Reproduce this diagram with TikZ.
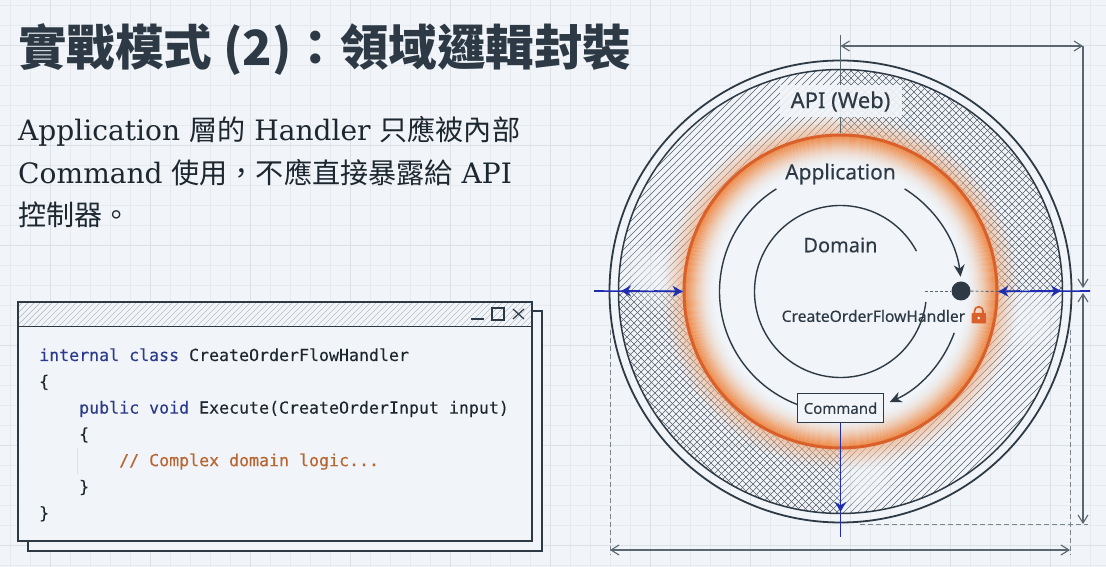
\documentclass[tikz,border=0pt]{standalone}
\usepackage{fontspec}
\usetikzlibrary{arrows.meta}
\setmainfont{DejaVu Serif}
\setsansfont[FakeBold=0.25]{Noto Sans}
\setmonofont[FakeBold=0.15]{DejaVu Sans Mono}
\newfontfamily\cjkfont{Noto Sans CJK TC}
\definecolor{bgc}{HTML}{F1F4F8}
\definecolor{gridminor}{HTML}{E6EAEF}
\definecolor{gridmajor}{HTML}{DCE1E7}
\definecolor{ink}{HTML}{2D3A45}
\definecolor{dimc}{HTML}{5A6670}
\definecolor{hatchc}{HTML}{55606A}
\definecolor{orangec}{HTML}{D9602A}
\definecolor{glowc}{HTML}{EE7F35}
\definecolor{bluec}{HTML}{1F2DB0}
\definecolor{kwc}{HTML}{2B3A8C}
\definecolor{cmtc}{HTML}{B8652F}
\definecolor{bodyc}{HTML}{1D2730}
\tikzset{
  x=1pt,y=1pt,
  lbl/.style={font=\sffamily\fontsize{#1}{#1}\selectfont,text=ink,inner sep=0pt},
  dimline/.style={draw=dimc,line width=1.1pt},
  dimboth/.style={dimline,{Straight Barb[length=8pt,width=10pt]}-{Straight Barb[length=8pt,width=10pt]}},
  dimend/.style={dimline,-{Straight Barb[length=8pt,width=10pt]}},
  dashguide/.style={draw=dimc!80,line width=0.8pt,dash pattern=on 5pt off 3pt},
  bluearrow/.style={draw=bluec,line width=1.6pt},
  bh/.style={-{Stealth[length=10pt,width=11pt]}},
  ring/.style={draw=ink,line width=1.4pt},
  flow/.style={draw=ink,line width=1.4pt,-{Stealth[length=12pt,width=11pt]}},
  codeline/.style={font=\ttfamily\fontsize{16.6}{16.6}\selectfont,anchor=base west,inner sep=0pt,text=bodyc},
  bodyline/.style={font=\rmfamily\fontsize{28.1}{28.1}\selectfont,anchor=base west,inner sep=0pt,text=bodyc},
  winbtn/.style={draw=ink,line width=1.2pt},
  hatchline/.style={draw=hatchc,line width=0.55pt},
}
\begin{document}
\begin{tikzpicture}
\useasboundingbox (0,0) rectangle (1106,567);
\fill[bgc] (0,0) rectangle (1106,567);
% grid
\foreach \i in {0,...,55} {\draw[gridminor,line width=0.6pt] ({10.7+20*\i},0) -- ({10.7+20*\i},567);}
\foreach \i in {0,...,28} {\draw[gridminor,line width=0.6pt] (0,{562-20*\i}) -- (1106,{562-20*\i});}
\foreach \i in {0,...,10} {\draw[gridmajor,line width=0.7pt] ({50.7+100*\i},0) -- ({50.7+100*\i},567);}
\foreach \i in {0,...,5} {\draw[gridmajor,line width=0.7pt] (0,{522-100*\i}) -- (1106,{522-100*\i});}

% title and body
\node[font=\cjkfont\bfseries\fontsize{48.5}{48.5}\selectfont,text=ink,anchor=base west,inner sep=0pt] (title) at (18,501) {實戰模式 (2)：領域邏輯封裝};
\node[bodyline] (body1) at (18,426) {Application {\cjkfont 層的} Handler {\cjkfont 只應被內部}};
\node[bodyline] (body2) at (18,383) {Command {\cjkfont 使用，不應直接暴露給} API};
\node[bodyline] (body3) at (18,341) {{\cjkfont 控制器。}};

% code window
\draw[ink,line width=1.2pt,fill=bgc] (28,16) rectangle (542,256);
\fill[bgc] (18,26) rectangle (532,265);
\begin{scope}
  \clip (18,240) rectangle (532,265);
  \foreach \i in {0,...,95} {\draw[gridmajor!85!black,line width=0.7pt] ({-10+6*\i},238) -- ({-10+6*\i+30},268);}
\end{scope}
\draw[ink,line width=1.2pt] (18,26) rectangle (532,265);
\draw[ink,line width=1.2pt] (18,240.5) -- (532,240.5);
\draw[winbtn] (471,248) -- (484,248);
\draw[winbtn] (492,247) rectangle (504,259);
\draw[winbtn] (513,248) -- (524,258) (513,258) -- (524,248);
\draw[gridmajor,line width=0.8pt] (77,119) -- (77,93);
\node[codeline] (c1) at (39,206) {\textcolor{kwc}{internal class} CreateOrderFlowHandler};
\node[codeline] (c2) at (39,179.7) {\{};
\node[codeline] (c3) at (79,153.4) {\textcolor{kwc}{public void} Execute(CreateOrderInput input)};
\node[codeline] (c4) at (79,127.1) {\{};
\node[codeline] (c5) at (119,100.8) {\textcolor{cmtc}{// Complex domain logic...}};
\node[codeline] (c6) at (79,74.5) {\}};
\node[codeline] (c7) at (39,48.2) {\}};

% target
\coordinate (C) at (840.5,275.5);
% hatching
\begin{scope}[shift={(840.5,275.5)}]
  \clip (0,0) circle[radius=222];
  % plain diagonal quadrants
  \begin{scope}
    \clip (-240,0) rectangle (0,240) (0,-240) rectangle (240,0);
    \foreach \k in {-68,...,68} {\draw[hatchline] (-240,{7*\k-240}) -- (240,{7*\k+240});}
  \end{scope}
  % cross hatch quadrants
  \begin{scope}
    \clip (0,0) rectangle (240,240) (-240,-240) rectangle (0,0);
    \foreach \k in {-68,...,68} {\draw[hatchline] (-240,{7*\k-240}) -- (240,{7*\k+240});
                                 \draw[hatchline] (-240,{7*\k+240}) -- (240,{7*\k-240});}
  \end{scope}
  % soft hazes where the hatches meet
  \foreach \hx/\hy in {-192/22,-180/8,198/-22,185/-38,20/-195,34/-178} {
    \foreach \hr in {6,12,...,30} {
      \fill[bgc,opacity=0.13] (\hx,\hy) circle[radius=\hr];
    }
  }
  % interior
  \fill[bgc] (0,0) circle[radius=157];
  % glow
  \foreach \r in {124,...,156} {
    \pgfmathsetmacro{\op}{0.85*((\r-124)/33)^2.2}
    \draw[glowc,line width=1.5pt,opacity=\op] (0,0) circle[radius=\r];
  }
  \foreach \r in {158,...,180} {
    \pgfmathsetmacro{\op}{0.62*((180-\r)/23)^1.5}
    \draw[bgc!45!glowc,line width=1.5pt,opacity=\op] (0,0) circle[radius=\r];
  }
\end{scope}

% rings
\node[draw=ink,line width=1.8pt,circle,minimum size=462pt,inner sep=0pt] (outer) at (C) {};
\node[draw=ink,line width=1.5pt,circle,minimum size=444pt,inner sep=0pt] (wall) at (C) {};
\node[draw=orangec,line width=3pt,circle,minimum size=313pt,inner sep=0pt] (appwall) at (C) {};

% top dimension guide
\coordinate (topguide) at (840.5,532);
\coordinate (topcorner) at (1083,521);
\coordinate (topstart) at (840.5,521);
\coordinate (midcorner) at (1083,279);
\coordinate (midcornerb) at (1083,274);
\coordinate (botcorner) at (1083,43);
\draw[dimline,line width=0.9pt] (topguide) -- (appwall.north);
\draw[dimboth] (topstart) -- (topcorner);
\draw[dimend] (topcorner) -- (midcorner);
\draw[dimboth] (midcornerb) -- (botcorner);

% labels
\node[fill=bgc,fill opacity=0.92,text opacity=1,minimum width=122pt,minimum height=32pt,inner sep=0pt] (api) at (840.5,466) {};
\node[lbl=22] (apit) at (840.5,465.5) {API (Web)};
\node[lbl=21] (app) at (840.5,393) {Application};
\node[lbl=20] (dom) at (840.5,322) {Domain};
\node[lbl=15.6,anchor=west] (handler) at (781.5,251) {CreateOrderFlowHandler};

% domain arc and application arcs
\draw[ring] (C) ++(-7:86) arc[start angle=-7,end angle=-332,radius=86];
\node[draw=ink,line width=1.2pt,fill=bgc,minimum width=86pt,minimum height=29pt,inner sep=0pt,lbl=15] (cmd) at (840.5,158.8) {Command};
\draw[ring] (C) ++(122:121) arc[start angle=122,end angle=249,radius=121];
\draw[flow] (C) ++(58:121) arc[start angle=58,end angle=7,radius=121];
\draw[flow] (C) ++(-20:121) arc[start angle=-20,end angle=-66,radius=121];

% handler dot
\node[circle,fill=ink,minimum size=19pt,inner sep=0pt] (dot) at (961,276) {};
\coordinate (domr) at (925,276);
\draw[dimc,line width=0.9pt,dash pattern=on 3pt off 2pt] (domr) -- (dot);
\draw[dimc,line width=0.9pt,dash pattern=on 3pt off 2pt] (dot) -- (appwall.east);

% lock
\fill[orangec,rounded corners=1pt] (971.5,243.5) rectangle (986,254);
\draw[orangec,line width=1.7pt] (974.5,254) -- (974.5,256) arc[start angle=180,end angle=0,radius=4.25] -- (983,254);
\fill[white] (978.75,249) circle[radius=1.4];

% blue measures
\coordinate (bl) at (594,276);
\coordinate (blh) at (621,276);
\coordinate (br) at (1090,276);
\coordinate (brh) at (1061,276);
\coordinate (cb) at (840.5,30);
\coordinate (cbh) at (840.5,55);
\draw[bluearrow] (bl) -- (appwall.west);
\draw[bluearrow,bh] (640,276) -- (blh);
\draw[bluearrow,bh] (654,276) -- (appwall.west);
\draw[bluearrow] (appwall.east) -- (br);
\draw[bluearrow,bh] (1020,276) -- (appwall.east);
\draw[bluearrow,bh] (1030,276) -- (brh);
\draw[bluearrow] (cmd.south) -- (cb);
\draw[bluearrow,bh] (840.5,75) -- (cbh);

% bottom dimensions
\coordinate (gl1) at (610,237);
\coordinate (gl2) at (610,12);
\coordinate (gr1) at (1070,237);
\coordinate (gr2) at (1070,12);
\coordinate (gb1) at (860,43);
\coordinate (gb2) at (1088,43);
\coordinate (dl) at (610,17);
\coordinate (dr) at (1070,17);
\draw[dashguide] (gl1) -- (gl2);
\draw[dashguide] (gr1) -- (gr2);
\draw[dashguide] (gb1) -- (gb2);
\draw[dimboth] (dl) -- (dr);
\end{tikzpicture}
\end{document}
